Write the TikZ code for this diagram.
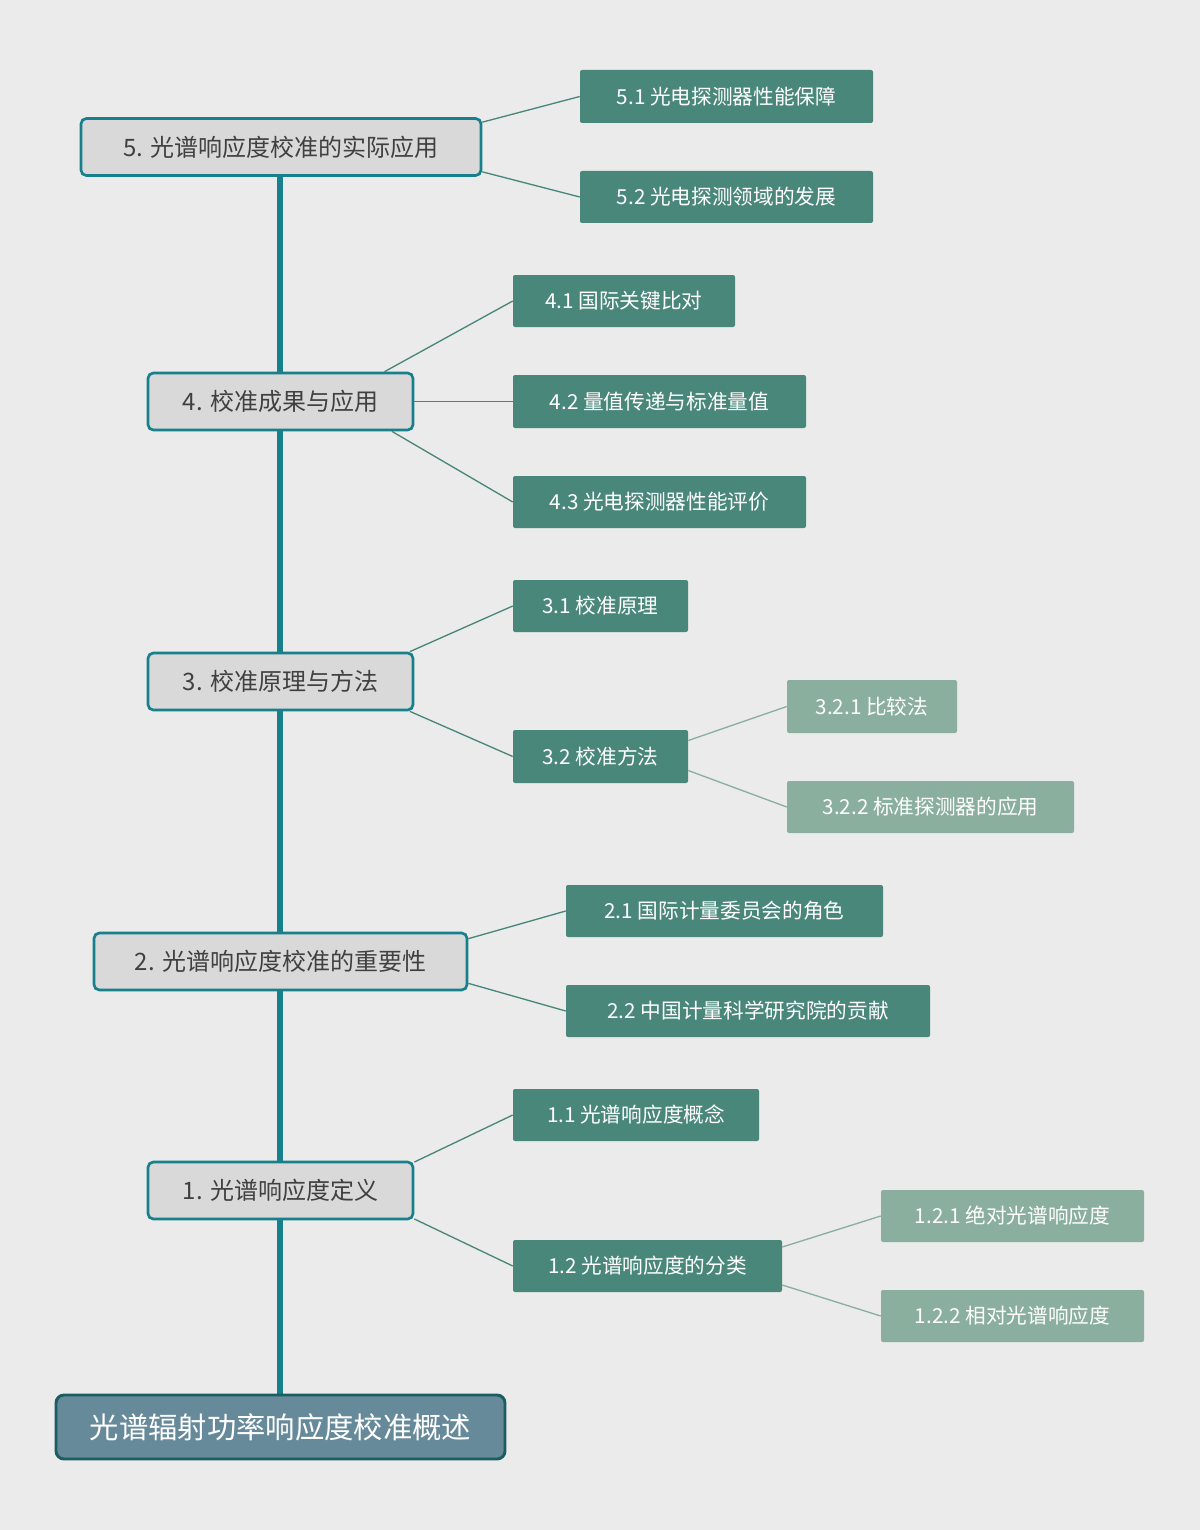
\documentclass[tikz,border=0pt]{standalone}
\usepackage{fontspec}
\setmainfont{Noto Sans CJK SC}
\usetikzlibrary{calc}
\definecolor{bg}{HTML}{EBEBEB}
\definecolor{spine}{HTML}{17808C}
\definecolor{mainfill}{HTML}{D9D9D9}
\definecolor{lvtwo}{HTML}{4A877B}
\definecolor{lvthree}{HTML}{8BAF9F}
\definecolor{rootfill}{HTML}{668A9A}
\definecolor{rootdraw}{HTML}{1B5E62}
\begin{document}
\begin{tikzpicture}[x=0.75pt,y=-0.75pt,
 mainbox/.style={draw=spine,line width=2pt,fill=mainfill,rounded corners=4pt,text=black!75,font=\fontsize{18}{20}\selectfont,inner sep=0pt},
 twobox/.style={fill=lvtwo,rounded corners=1.5pt,text=white,font=\fontsize{15.5}{18}\selectfont,inner sep=0pt},
 threebox/.style={fill=lvthree,rounded corners=1.5pt,text=white,font=\fontsize{15.5}{18}\selectfont,inner sep=0pt},
 rootbox/.style={draw=rootdraw,line width=2.2pt,fill=rootfill,rounded corners=6pt,text=white,font=\fontsize{22}{24}\selectfont,inner sep=0pt},
 twoline/.style={draw=lvtwo,line width=1pt},
 threeline/.style={draw=lvthree,line width=1pt},
 spineline/.style={draw=spine,line width=4pt}]
\fill[bg] (0,0) rectangle (1200,1530);
\newcommand{\bx}[6]{\node[#1,minimum width={(#4-#3)*0.75pt},minimum height={(#6-#5)*0.75pt}] (#2) at ({(#3+#4)/2},{(#5+#6)/2}) {};}
% spine
\draw[spineline] (280,175) -- (280,1396);
% main boxes
\node[mainbox,minimum width=300pt,minimum height=42.75pt] (n5) at (281,147) {5. 光谱响应度校准的实际应用};
\node[mainbox,minimum width=198.75pt,minimum height=42.75pt] (n4) at (280.5,401.5) {4. 校准成果与应用};
\node[mainbox,minimum width=198.75pt,minimum height=42.75pt] (n3) at (280.5,681.5) {3. 校准原理与方法};
\node[mainbox,minimum width=279.75pt,minimum height=42.75pt] (n2) at (280.5,961.5) {2. 光谱响应度校准的重要性};
\node[mainbox,minimum width=198.75pt,minimum height=42.75pt] (n1) at (280.5,1190.5) {1. 光谱响应度定义};
\node[rootbox,minimum width=336.75pt,minimum height=48pt] (root) at (280.5,1427) {光谱辐射功率响应度校准概述};
% level 2
\node[twobox,minimum width=219.75pt,minimum height=39.75pt] (n51) at (726.5,96.5) {5.1 光电探测器性能保障};
\node[twobox,minimum width=219.75pt,minimum height=39pt] (n52) at (726.5,197) {5.2 光电探测领域的发展};
\node[twobox,minimum width=166.5pt,minimum height=39pt] (n41) at (624,301) {4.1 国际关键比对};
\node[twobox,minimum width=219.75pt,minimum height=39.75pt] (n42) at (659.5,401.5) {4.2 量值传递与标准量值};
\node[twobox,minimum width=219.75pt,minimum height=39pt] (n43) at (659.5,502) {4.3 光电探测器性能评价};
\node[twobox,minimum width=131.25pt,minimum height=39pt] (n31) at (600.5,606) {3.1 校准原理};
\node[twobox,minimum width=131.25pt,minimum height=39.75pt] (n32) at (600.5,756.5) {3.2 校准方法};
\node[threebox,minimum width=127.5pt,minimum height=39.75pt] (n321) at (872,706.5) {3.2.1 比较法};
\node[threebox,minimum width=215.25pt,minimum height=39pt] (n322) at (930.5,807) {3.2.2 标准探测器的应用};
\node[twobox,minimum width=237.75pt,minimum height=39pt] (n21) at (724.5,911) {2.1 国际计量委员会的角色};
\node[twobox,minimum width=273pt,minimum height=39pt] (n22) at (748,1011) {2.2 中国计量科学研究院的贡献};
\node[twobox,minimum width=184.5pt,minimum height=39pt] (n11) at (636,1115) {1.1 光谱响应度概念};
\node[twobox,minimum width=201.75pt,minimum height=39pt] (n12) at (647.5,1266) {1.2 光谱响应度的分类};
\node[threebox,minimum width=197.25pt,minimum height=39pt] (n121) at (1012.5,1216) {1.2.1 绝对光谱响应度};
\node[threebox,minimum width=197.25pt,minimum height=39pt] (n122) at (1012.5,1316) {1.2.2 相对光谱响应度};
% connectors
\draw[twoline] ($(n5.north east)+(0,5)$) -- (n51.west);
\draw[twoline] ($(n5.south east)+(0,-5)$) -- (n52.west);
\draw[twoline] (n4.16) -- (n41.west);
\draw[twoline] (n4.east) -- (n42.west);
\draw[twoline] (n4.-15) -- (n43.west);
\draw[twoline] (n3.13) -- (n31.west);
\draw[twoline] (n3.-13) -- (n32.west);
\draw[threeline] ($(n32.east)+(0,-16)$) -- (n321.west);
\draw[threeline] ($(n32.east)+(0,14)$) -- (n322.west);
\draw[twoline] ($(n2.north east)+(0,7)$) -- (n21.west);
\draw[twoline] ($(n2.south east)+(0,-8)$) -- (n22.west);
\draw[twoline] (n1.12.4) -- (n11.west);
\draw[twoline] (n1.-12.4) -- (n12.west);
\draw[threeline] ($(n12.east)+(0,-19)$) -- (n121.west);
\draw[threeline] ($(n12.east)+(0,19)$) -- (n122.west);
\end{tikzpicture}
\end{document}
